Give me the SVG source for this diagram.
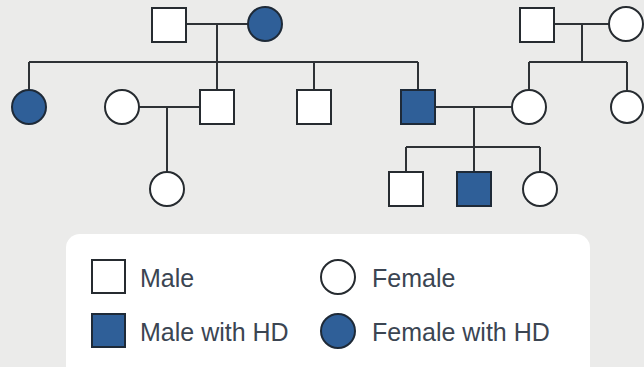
<svg xmlns="http://www.w3.org/2000/svg" width="644" height="367" viewBox="0 0 644 367">
<style>
.sq{fill:#ffffff;stroke:#262b30;stroke-width:2}
.sqa{fill:#2f5f98;stroke:#1e2a38;stroke-width:2}
.ln{fill:none;stroke:#2e3236;stroke-width:2}
.lbl{font-family:"Liberation Sans",Arial,sans-serif;font-size:25px;fill:#3b4552}
</style>
<rect x="0" y="0" width="644" height="367" fill="#ebebea"/>
<g id="connectors">
<path class="ln" d="M186 24H248M217 24V62M29 62H418M29 62V90M217 62V90M314 62V90M418 62V90"/>
<path class="ln" d="M139 107H200M167 107V172"/>
<path class="ln" d="M436 107H512M474 107V147M406 147H540M406 147V172M474 147V172M540 147V172"/>
<path class="ln" d="M554 24H609M582 24V62M529 62H627M529 62V90M627 62V90"/>
</g>
<g id="gp1"><rect class="sq" x="152" y="8" width="34" height="34"/></g>
<g id="gp2"><circle class="sqa" cx="265" cy="24" r="17"/></g>
<g id="gp3"><rect class="sq" x="520" y="8" width="34" height="34"/></g>
<g id="gp4"><circle class="sq" cx="626" cy="24" r="17"/></g>
<g id="p1"><circle class="sqa" cx="29" cy="107" r="17"/></g>
<g id="p2"><circle class="sq" cx="122" cy="107" r="17"/></g>
<g id="p3"><rect class="sq" x="200" y="90" width="34" height="34"/></g>
<g id="p4"><rect class="sq" x="297" y="90" width="34" height="34"/></g>
<g id="p5"><rect class="sqa" x="401" y="90" width="34" height="34"/></g>
<g id="p6"><circle class="sq" cx="529" cy="107" r="17"/></g>
<g id="p7"><circle class="sq" cx="627" cy="107" r="16"/></g>
<g id="c1"><circle class="sq" cx="167" cy="189" r="17"/></g>
<g id="c2"><rect class="sq" x="389" y="172" width="34" height="34"/></g>
<g id="c3"><rect class="sqa" x="457" y="172" width="34" height="34"/></g>
<g id="c4"><circle class="sq" cx="540" cy="189" r="17"/></g>
<g id="legend">
<rect x="66" y="234" width="524" height="150" rx="14" fill="#ffffff"/>
<rect class="sq" x="92" y="260" width="33" height="33"/>
<text class="lbl" x="140" y="287">Male</text>
<rect class="sqa" x="92" y="314" width="33" height="33"/>
<text class="lbl" x="140" y="341">Male with HD</text>
<circle class="sq" cx="338" cy="277" r="17"/>
<text class="lbl" x="372" y="287">Female</text>
<circle class="sqa" cx="338" cy="331" r="17"/>
<text class="lbl" x="372" y="341">Female with HD</text>
</g>
</svg>
